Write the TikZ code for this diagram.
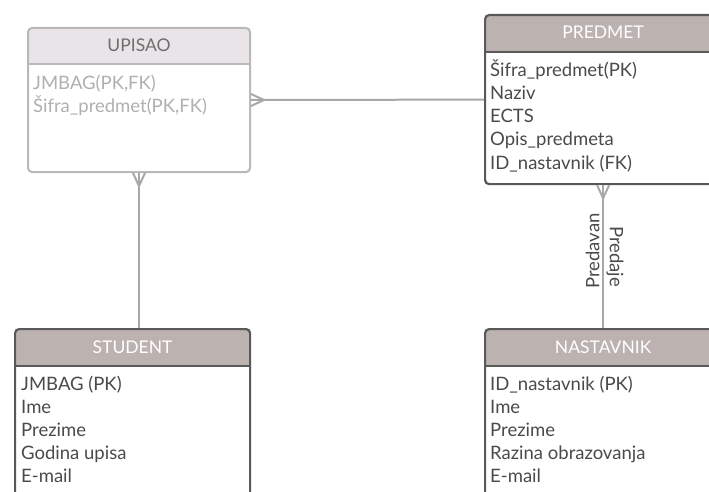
\documentclass[tikz,border=0pt]{standalone}
\usepackage{fontspec}
\setmainfont{Lato}
\usetikzlibrary{positioning}
\definecolor{hdrDark}{HTML}{BCB2B0}
\definecolor{hdrLight}{HTML}{E8E4E8}
\definecolor{edgeDark}{HTML}{595959}
\definecolor{edgeLight}{HTML}{B9B9B9}
\definecolor{txtDark}{HTML}{4A4A4A}
\definecolor{txtLight}{HTML}{B0B0B0}
\definecolor{ttlLight}{HTML}{6E6E6E}
\definecolor{relGrey}{HTML}{A8A8A8}
\tikzset{ent/.style={draw=edgeDark, line width=2.2pt, rounded corners=4pt,
  fill=white, anchor=north west, inner sep=0pt,
  path picture={\fill[hdrDark] (path picture bounding box.north west)
    rectangle ([yshift=-37pt]path picture bounding box.north east);
    \draw[edgeDark, line width=2.2pt]
    ([yshift=-37pt]path picture bounding box.north west) --
    ([yshift=-37pt]path picture bounding box.north east);}}}
\tikzset{entl/.style={draw=edgeLight, line width=2pt, rounded corners=4pt,
  fill=white, anchor=north west, inner sep=0pt,
  path picture={\fill[hdrLight] (path picture bounding box.north west)
    rectangle ([yshift=-36pt]path picture bounding box.north east);
    \draw[edgeLight, line width=2pt]
    ([yshift=-36pt]path picture bounding box.north west) --
    ([yshift=-36pt]path picture bounding box.north east);}}}
\tikzset{ttl/.style={anchor=base, inner sep=0pt, text=white,
  font=\fontsize{17.5}{20}\selectfont}}
\tikzset{attr/.style={anchor=base west, inner sep=0pt, text=txtDark}}
\tikzset{rel/.style={draw=relGrey, line width=2pt}}
\tikzset{lbl/.style={inner sep=2.5pt, text=txtDark}}

\begin{document}
\begin{tikzpicture}[x=1pt, y=-1pt, font=\fontsize{18.5}{22}\selectfont]
        \useasboundingbox (0,0) rectangle (709,492);
        \clip (0,0) rectangle (709,492);
        %% entities
        \node[entl, minimum width=222pt, minimum height=144pt] (upisao) at (27,27) {};
        \node[ent, minimum width=236pt, minimum height=169pt] (predmet) at (484,14) {};
        \node[ent, minimum width=235pt, minimum height=200pt] (student) at (14,328) {};
        \node[ent, minimum width=236pt, minimum height=200pt] (nastavnik) at (484,328) {};
        \node[ttl, text=ttlLight] (upisaoT) at ([yshift=-25pt]upisao.north) {UPISAO};
        \node[ttl] (predmetT) at ([yshift=-25pt]predmet.north) {PREDMET};
        \node[ttl] (studentT) at ([yshift=-25pt]student.north) {STUDENT};
        \node[ttl] (nastavnikT) at ([yshift=-25pt]nastavnik.north) {NASTAVNIK};
        %% attributes
        \foreach \t [count=\i] in {{JMBAG(PK,FK)}, {Šifra\_predmet(PK,FK)}}
            \node[attr, text=txtLight] (upisao-\i) at ([xshift=6pt, yshift={-63pt-23pt*(\i-1)}]upisao.north west) {\t};
        \foreach \t [count=\i] in {Šifra\_predmet(PK), Naziv, ECTS, Opis\_predmeta, ID\_nastavnik (FK)}
            \node[attr] (predmet-\i) at ([xshift=6pt, yshift={-63pt-23pt*(\i-1)}]predmet.north west) {\t};
        \foreach \t [count=\i] in {JMBAG (PK), Ime, Prezime, Godina upisa, E-mail}
            \node[attr] (student-\i) at ([xshift=7pt, yshift={-62pt-23pt*(\i-1)}]student.north west) {\t};
        \foreach \t [count=\i] in {ID\_nastavnik (PK), Ime, Prezime, Razina obrazovanja, E-mail}
            \node[attr] (nastavnik-\i) at ([xshift=6pt, yshift={-62pt-23pt*(\i-1)}]nastavnik.north west) {\t};
        %% relationships
        \draw [rel] (upisao.east) -- (predmet.west);
        \draw [rel] ([yshift=6pt]upisao.east) -- ([xshift=13pt]upisao.east) -- ([yshift=-6pt]upisao.east);
        \draw [rel] (upisao.south) -- (upisao.south |- student.north);
        \draw [rel] ([xshift=-6pt]upisao.south) -- ([yshift=-13pt]upisao.south) -- ([xshift=6pt]upisao.south);
        \draw [rel] (predmet.south) --
            node[lbl, pos=.46, rotate=90, above] (predavan) {Predavan}
            node[lbl, pos=.5, rotate=-90, above] (predaje) {Predaje}
            (nastavnik.north);
        \draw [rel] ([xshift=-6pt]predmet.south) -- ([yshift=-13pt]predmet.south) -- ([xshift=6pt]predmet.south);
\end{tikzpicture}
\end{document}
